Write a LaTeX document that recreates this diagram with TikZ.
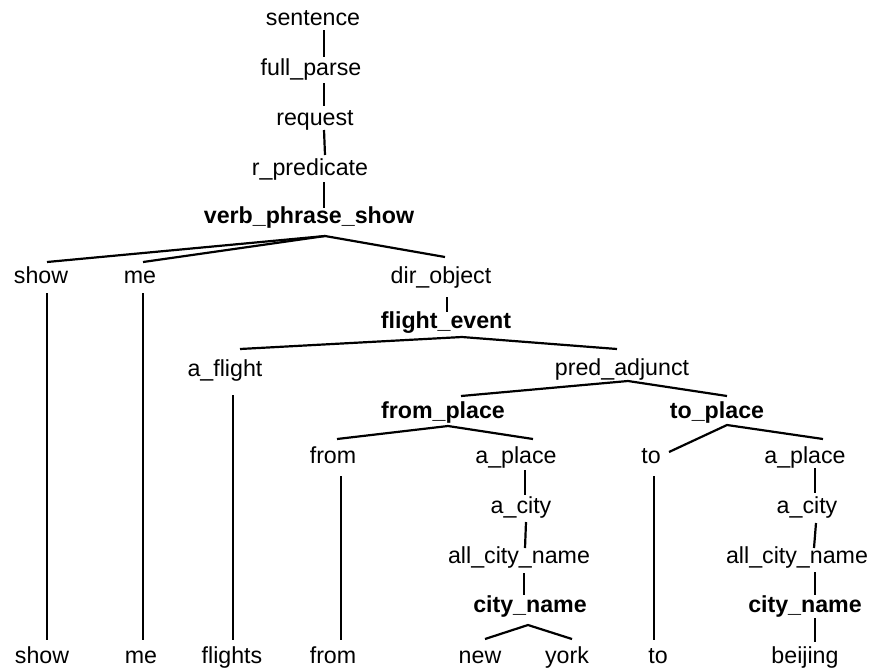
\documentclass[tikz,border=0pt]{standalone}
\usepackage{fontspec}
\setmainfont{Liberation Sans}
\begin{document}
\begin{tikzpicture}[x=1pt,y=-1pt,
  tn/.style={anchor=base,inner sep=0pt,outer sep=0pt,font=\fontsize{23.2}{28}\selectfont},
  tb/.style={tn,font=\fontsize{23.2}{28}\selectfont\bfseries},
  conn/.style={line width=2.2pt,line cap=butt}]
\useasboundingbox (0,0) rectangle (875,670);

% spine of the parse
\node[tn] (sentence)  at (313,25)  {sentence};
\node[tn] (fullparse) at (311,75)  {full\_parse};
\node[tn] (request)   at (315,125) {request};
\node[tn] (rpred)     at (310,175) {r\_predicate};
\node[tb] (verb)      at (309,223) {verb\_phrase\_show};

% first level below the verb phrase
\node[tn] (showA)  at (41,283)  {show};
\node[tn] (meA)    at (140,283) {me};
\node[tn] (dirobj) at (441,283) {dir\_object};
\node[tb] (fevent) at (446,328) {flight\_event};
\node[tn] (aflight) at (225,376) {a\_flight};
\node[tn] (padj)    at (622,375) {pred\_adjunct};
\node[tb] (fplace)  at (443,418) {from\_place};
\node[tb] (tplace)  at (717,418) {to\_place};

% source branch
\node[tn] (fromA)  at (333,463) {from};
\node[tn] (aplA)   at (516,463) {a\_place};
\node[tn] (acityA) at (521,513) {a\_city};
\node[tn] (acnA)   at (519,563) {all\_city\_name};
\node[tb] (cnA)    at (530,612) {city\_name};

% destination branch
\node[tn] (toA)    at (651,463) {to};
\node[tn] (aplB)   at (805,463) {a\_place};
\node[tn] (acityB) at (807,513) {a\_city};
\node[tn] (acnB)   at (797,563) {all\_city\_name};
\node[tb] (cnB)    at (805,612) {city\_name};

% words of the sentence
\node[tn] (wshow)    at (42,663)  {show};
\node[tn] (wme)      at (141,663) {me};
\node[tn] (wflights) at (232,663) {flights};
\node[tn] (wfrom)    at (333,663) {from};
\node[tn] (wnew)     at (480,663) {new};
\node[tn] (wyork)    at (567,663) {york};
\node[tn] (wto)      at (658,663) {to};
\node[tn] (wbeijing) at (805,663) {beijing};

% connectors
\draw[conn] ([shift={(11,5)}]sentence.base) -- ([shift={(13,-18)}]fullparse.base);
\draw[conn] ([shift={(13,8)}]fullparse.base) -- ([shift={(9,-19)}]request.base);
\draw[conn] ([shift={(9,5)}]request.base) -- ([shift={(15,-20)}]rpred.base);
\draw[conn] ([shift={(14,7)}]rpred.base) -- ([shift={(15,-15)}]verb.base);

\draw[conn] ([shift={(6,-21)}]showA.base) -- ([shift={(16,13)}]verb.base)
            -- ([shift={(4,-26)}]dirobj.base);
\draw[conn] ([shift={(16,13)}]verb.base) -- ([shift={(3,-21)}]meA.base);
\draw[conn] ([shift={(6,14)}]dirobj.base) -- ([shift={(1,-16)}]fevent.base);

\draw[conn] ([shift={(15,-27)}]aflight.base) -- ([shift={(16,9)}]fevent.base)
            -- ([shift={(-5,-26)}]padj.base);
\draw[conn] ([shift={(18,-22)}]fplace.base) -- ([shift={(6,6)}]padj.base)
            -- ([shift={(10,-22)}]tplace.base);

\draw[conn] ([shift={(4,-24)}]fromA.base) -- ([shift={(5,8)}]fplace.base)
            -- ([shift={(17,-24)}]aplA.base);
\draw[conn] ([shift={(18,-11)}]toA.base) -- ([shift={(10,7)}]tplace.base)
            -- ([shift={(18,-24)}]aplB.base);

\draw[conn] ([shift={(9,7)}]aplA.base) -- ([shift={(4,-18)}]acityA.base);
\draw[conn] ([shift={(5,9)}]acityA.base) -- ([shift={(6,-15)}]acnA.base);
\draw[conn] ([shift={(5,10)}]acnA.base) -- ([shift={(-6,-17)}]cnA.base);
\draw[conn] ([shift={(5,-24)}]wnew.base) -- ([shift={(-2,13)}]cnA.base)
            -- ([shift={(5,-24)}]wyork.base);

\draw[conn] ([shift={(10,5)}]aplB.base) -- ([shift={(8,-20)}]acityB.base);
\draw[conn] ([shift={(9,10)}]acityB.base) -- ([shift={(17,-15)}]acnB.base);
\draw[conn] ([shift={(18,9)}]acnB.base) -- ([shift={(10,-17)}]cnB.base);
\draw[conn] ([shift={(10,6)}]cnB.base) -- ([shift={(10,-21)}]wbeijing.base);

\draw[conn] ([shift={(6,10)}]showA.base) -- ([shift={(5,-23)}]wshow.base);
\draw[conn] ([shift={(3,10)}]meA.base) -- ([shift={(2,-23)}]wme.base);
\draw[conn] ([shift={(8,19)}]aflight.base) -- ([shift={(1,-23)}]wflights.base);
\draw[conn] ([shift={(8,13)}]fromA.base) -- ([shift={(8,-23)}]wfrom.base);
\draw[conn] ([shift={(3,13)}]toA.base) -- ([shift={(-4,-23)}]wto.base);
\end{tikzpicture}
\end{document}
